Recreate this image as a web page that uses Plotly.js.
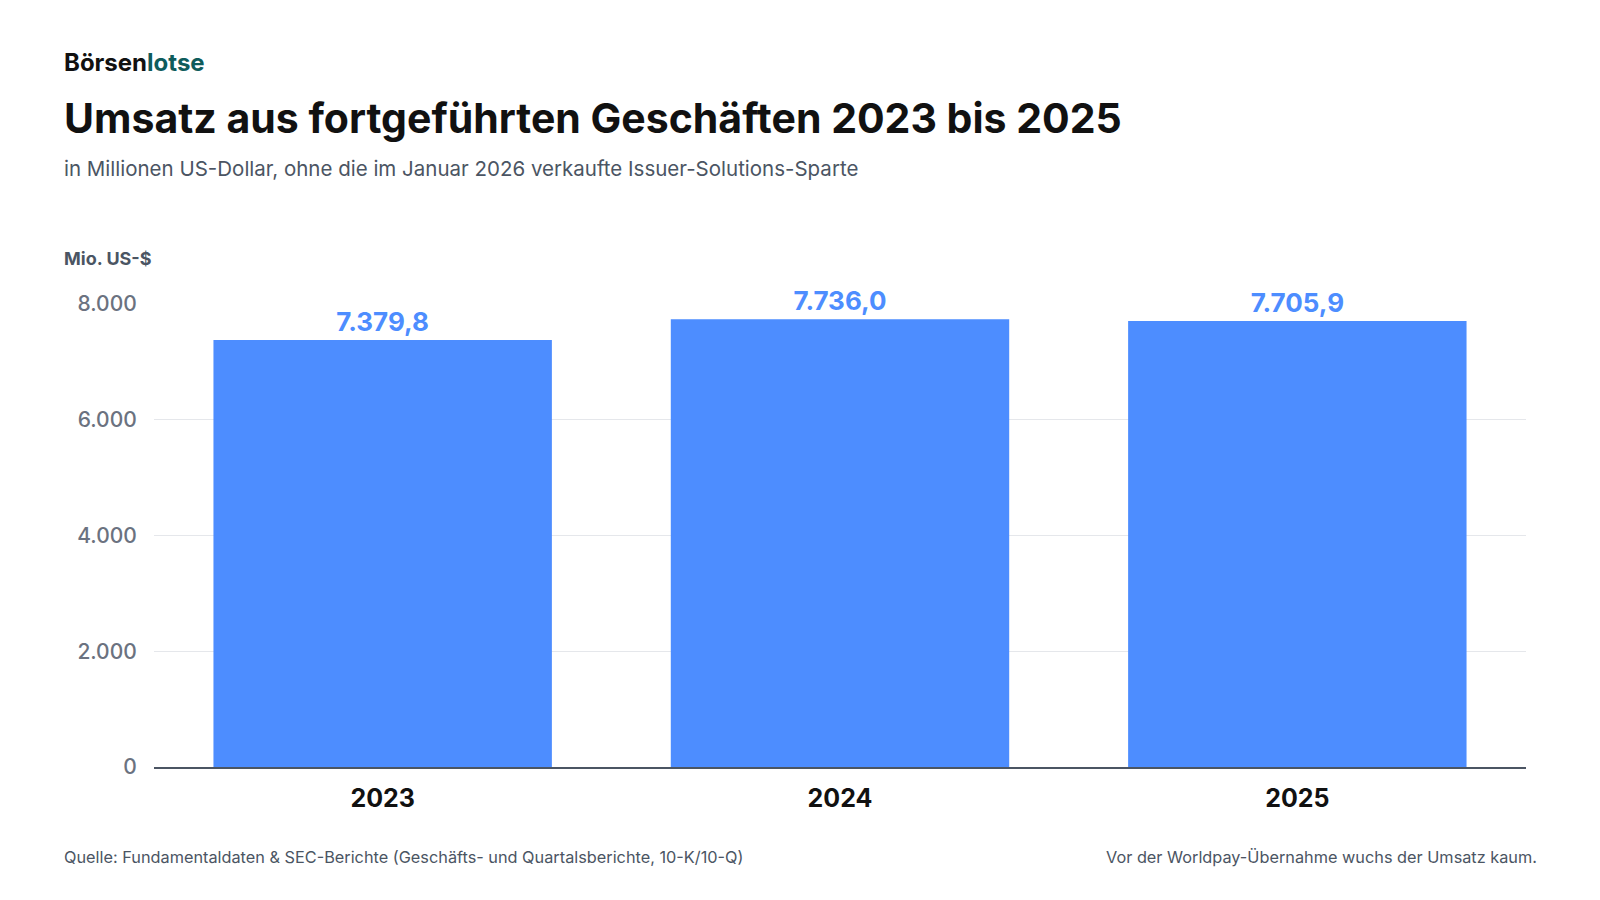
<!DOCTYPE html>
<html>
<head>
<meta charset="utf-8">
<script src="https://cdn.plot.ly/plotly-3.0.1.min.js"></script>
<style>
  html, body { margin: 0; padding: 0; background: #fff; }
  #graph { width: 1600px; height: 900px; }
</style>
</head>
<body>
<div id="graph"></div>
<script>
var years = ['2023', '2024', '2025'];
var umsatz = [7379.8, 7736.0, 7705.9];
var tickVals = [0, 2000, 4000, 6000, 8000];
var tickText = ['0', '2.000', '4.000', '6.000', '8.000'];

function fmt(v) {
    var parts = v.toFixed(1).split('.');
    return parts[0].replace(/\B(?=(\d{3})+(?!\d))/g, '.') + ',' + parts[1];
}

var L = 154, R = 74, T = 304, B = 133;
var PW = 1600 - L - R, PH = 900 - T - B;

var trace = {
    x: years,
    y: umsatz,
    type: 'bar',
    width: 0.74,
    marker: { color: '#4D8DFF' },
    text: umsatz.map(fmt),
    textposition: 'outside',
    cliponaxis: false,
    textfont: { family: 'Inter', size: 26, color: '#4D8DFF', weight: 700 },
    hoverinfo: 'none'
};

var layout = {
    width: 1600,
    height: 900,
    paper_bgcolor: '#fff',
    plot_bgcolor: '#fff',
    margin: { l: L, r: R, t: T, b: B },
    showlegend: false,
    font: { family: 'Inter' },
    xaxis: {
        type: 'category',
        tickfont: { family: 'Inter', size: 25, color: '#111', weight: 700 },
        showline: true, linecolor: '#4b5563', linewidth: 1.5,
        ticks: 'outside', ticklen: 8, tickcolor: '#fff', showgrid: false
    },
    yaxis: {
        range: [0, 8000],
        tickvals: tickVals,
        ticktext: tickText,
        tickfont: { family: 'Inter', size: 21, color: '#6b7280', weight: 500 },
        gridcolor: '#e5e7eb',
        zeroline: false,
        ticks: 'outside', ticklen: 12, tickcolor: '#fff'
    },
    annotations: []
};

var extras = [
    { x: 62, y: 62, text: '<b>Börsen</b><b style="color:#0f5c5c">lotse</b>', size: 24, color: '#111' },
    { x: 62, y: 118, text: '<b>Umsatz aus fortgeführten Geschäften 2023 bis 2025</b>', size: 41, color: '#111' },
    { x: 62, y: 168, text: 'in Millionen US-Dollar, ohne die im Januar 2026 verkaufte Issuer-Solutions-Sparte', size: 20.5, color: '#4b5563' },
    { x: 62, y: 258, text: '<b>Mio. US-$</b>', size: 18, color: '#4b5563' },
    { x: 62, y: 857, text: 'Quelle: Fundamentaldaten &amp; SEC-Berichte (Geschäfts- und Quartalsberichte, 10-K/10-Q)', size: 16.3, color: '#4b5563' }
];
extras.forEach(function (e) {
    layout.annotations.push({
        xref: 'paper', yref: 'paper', x: (e.x - L) / PW, y: (900 - B - e.y) / PH,
        xanchor: 'left', yanchor: 'middle', showarrow: false, text: e.text,
        font: { family: 'Inter', size: e.size, color: e.color }
    });
});
layout.annotations.push({
    xref: 'paper', yref: 'paper', x: (1539 - L) / PW, y: (900 - B - 857) / PH,
    xanchor: 'right', yanchor: 'middle', showarrow: false,
    text: 'Vor der Worldpay-Übernahme wuchs der Umsatz kaum.',
    font: { family: 'Inter', size: 16.3, color: '#4b5563' }
});

Plotly.newPlot('graph', [trace], layout, { staticPlot: true });
</script>
</body>
</html>
